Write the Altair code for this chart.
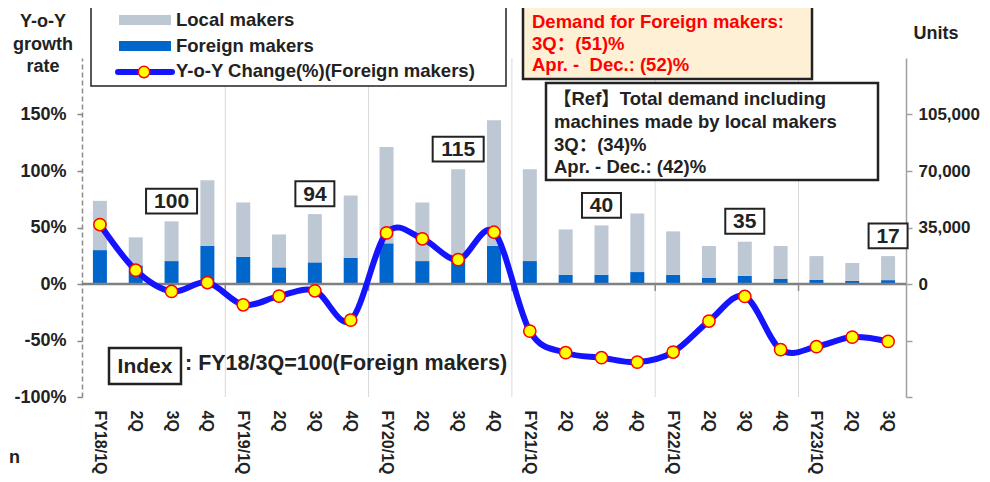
import altair as alt
import pandas as pd

# ---------------- data ----------------
cats = ["FY18/1Q", "2Q ", "3Q ", "4Q ",
        "FY19/1Q", "2Q  ", "3Q  ", "4Q  ",
        "FY20/1Q", "2Q   ", "3Q   ", "4Q   ",
        "FY21/1Q", "2Q    ", "3Q    ", "4Q    ",
        "FY22/1Q", "2Q     ", "3Q     ", "4Q     ",
        "FY23/1Q", "2Q      ", "3Q      "]
local_units = [30500, 17400, 24600, 40600,
               33600, 20400, 29900, 38700,
               59700, 36300, 54800, 77700,
               56900, 28200, 30600, 36300,
               26900, 19800, 21100, 20400,
               14800, 11100, 14900]
foreign_units = [21000, 11500, 14200, 23700,
                 16900, 10300, 13400, 16100,
                 25200, 14200, 16300, 23700,
                 14200, 5600, 5700, 7400,
                 5700, 3700, 5100, 3100,
                 2500, 1900, 2400]
yoy_pct = [52.6, 12.2, -6.6, 1.3,
           -18.4, -10.7, -6.0, -32.0,
           45.2, 40.0, 21.6, 45.8,
           -41.7, -60.8, -65.2, -69.1,
           -60.2, -32.8, -11.0, -58.1,
           -55.5, -47.0, -50.8]

index_cats = ["3Q ", "3Q  ", "3Q   ", "3Q    ", "3Q     ", "3Q      "]
index_labels = ["100", "94", "115", "40", "35", "17"]
index_label_y = [73.3, 79.9, 119.3, 69.6, 55.5, 42.6]   # label centre, in % axis units

year_starts = ["FY19/1Q", "FY20/1Q", "FY21/1Q", "FY22/1Q", "FY23/1Q"]

# ---------------- frames ----------------
rows = []
for c, lo, fo in zip(cats, local_units, foreign_units):
    rows.append({"cat": c, "series": "Foreign makers", "value": fo, "ord": 0})
    rows.append({"cat": c, "series": "Local makers", "value": lo, "ord": 1})
df_bars = pd.DataFrame(rows)
df_line = pd.DataFrame({"cat": cats, "yoy": yoy_pct})
df_idx = pd.DataFrame({"cat": index_cats, "label": index_labels, "ly": index_label_y})
df_idx["lo"] = df_idx["ly"] - 11.0
df_idx["hi"] = df_idx["ly"] + 11.0
df_years = pd.DataFrame({"cat": year_starts})
one = pd.DataFrame({"k": [0]})

FONT = "Liberation Sans, Arial, Noto Sans CJK SC, sans-serif"
DARK = "#222222"
W, H = 824, 339
STEP = W / len(cats)

X = alt.X("cat:N", sort=cats,
          scale=alt.Scale(domain=cats, paddingInner=0, paddingOuter=0),
          axis=alt.Axis(title=None, orient="bottom", labelAngle=90, labelAlign="left",
                        labelBaseline="middle", labelPadding=13, domain=False, ticks=False,
                        grid=False, labelFontSize=16, labelFontWeight="bold",
                        labelColor=DARK, labelFont=FONT))

right_scale = alt.Scale(domain=[-70000, 140000], nice=False, zero=False)
left_scale = alt.Scale(domain=[-100, 200], nice=False, zero=False)

right_axis = alt.Axis(title=None, orient="right",
                      values=[-70000, -35000, 0, 35000, 70000, 105000],
                      labelExpr="datum.value >= 0 ? format(datum.value, ',') : ''",
                      domainColor="#A0A0A0", domainWidth=1.5, tickColor="#A0A0A0",
                      tickSize=6, tickWidth=1.5, labelPadding=6, grid=False,
                      labelFontSize=17, labelFontWeight="bold", labelColor=DARK, labelFont=FONT)
left_axis = alt.Axis(title=None, orient="left",
                     values=[-100, -50, 0, 50, 100, 150],
                     labelExpr="datum.value + '%'",
                     domainColor="#8A8A8A", domainWidth=1.5, domainDash=[5, 3],
                     tickColor="#8A8A8A", tickSize=5, tickWidth=1.5, labelPadding=11,
                     grid=False, labelFontSize=18, labelFontWeight="bold",
                     labelColor=DARK, labelFont=FONT)

# ---------------- bars (right axis, units) ----------------
grid = alt.Chart(df_years).mark_rule(color="#D9D9D9", strokeWidth=1, xOffset=-STEP / 2).encode(
    x=X, y=alt.value(0), y2=alt.value(H))
small_ticks = alt.Chart(df_years).mark_rule(color="#8A8A8A", strokeWidth=1.5, xOffset=-STEP / 2).encode(
    x=X, y=alt.value(226), y2=alt.value(233))
bars = alt.Chart(df_bars).mark_bar(size=14).encode(
    x=X,
    y=alt.Y("value:Q", stack="zero", scale=right_scale, axis=right_axis),
    color=alt.Color("series:N",
                    scale=alt.Scale(domain=["Local makers", "Foreign makers"],
                                    range=["#BDC8D4", "#0066CC"]),
                    legend=None),
    order=alt.Order("ord:Q"))
zero_rule = alt.Chart(one).mark_rule(color="#808080", strokeWidth=2.5).encode(
    y=alt.Y(datum=0, scale=right_scale, axis=None))

# ---------------- line (left axis, %) ----------------
line = alt.Chart(df_line).mark_line(interpolate="cardinal", color="#1414FF", strokeWidth=6).encode(
    x=X, y=alt.Y("yoy:Q", scale=left_scale, axis=left_axis))
pts = alt.Chart(df_line).mark_point(shape="circle", filled=True, fill="#FFFF00", stroke="#FF0000",
                                    strokeWidth=1.5, size=150, opacity=1).encode(
    x=X, y=alt.Y("yoy:Q", scale=left_scale, axis=None))

box3 = alt.Chart(df_idx).transform_filter("length(datum.label) == 3").mark_bar(
    size=51, fill="white", stroke=DARK, strokeWidth=2).encode(
    x=X, y=alt.Y("lo:Q", scale=left_scale, axis=None), y2="hi:Q")
box2 = alt.Chart(df_idx).transform_filter("length(datum.label) == 2").mark_bar(
    size=39, fill="white", stroke=DARK, strokeWidth=2).encode(
    x=X, y=alt.Y("lo:Q", scale=left_scale, axis=None), y2="hi:Q")
box_txt = alt.Chart(df_idx).mark_text(fontSize=21, fontWeight="bold", color=DARK, font=FONT,
                                      baseline="middle", dy=1).encode(
    x=X, y=alt.Y("ly:Q", scale=left_scale, axis=None), text="label:N")


def rect(x1, y1, x2, y2, fill="white", stroke=DARK, sw=2):
    return alt.Chart(one).mark_rect(fill=fill, stroke=stroke, strokeWidth=sw).encode(
        x=alt.value(x1), x2=alt.value(x2), y=alt.value(y1), y2=alt.value(y2))


def txt(s, x, y, size=18.5, color=DARK, align="left"):
    return alt.Chart(one).mark_text(text=s, fontSize=size, fontWeight="bold", color=color,
                                    font=FONT, align=align, baseline="middle").encode(
        x=alt.value(x), y=alt.value(y))


NB = "\u00a0"
deco = [
    # legend
    rect(9, -52, 424, 28, sw=1.5),
    rect(37, -43, 89, -33, fill="#BDC8D4", stroke="#BDC8D4", sw=0),
    rect(37, -17, 89, -7, fill="#0066CC", stroke="#0066CC", sw=0),
    alt.Chart(one).mark_rule(color="#1414FF", strokeWidth=6, strokeCap="round").encode(
        x=alt.value(36), x2=alt.value(90), y=alt.value(14)),
    alt.Chart(one).mark_point(shape="circle", filled=True, fill="#FFFF00", stroke="#FF0000",
                              strokeWidth=1.5, size=130, opacity=1).encode(
        x=alt.value(62), y=alt.value(14)),
    txt("Local makers", 94, -38),
    txt("Foreign makers", 94, -12),
    txt("Y-o-Y Change(%)(Foreign makers)", 94, 13),
    # red box
    rect(441, -53, 730, 21, fill="#FDF0D5", stroke=DARK, sw=2.5),
    txt("Demand for Foreign makers:", 450, -36.5, color="#FF0000"),
    txt("3Q：(51)%", 450, -14, color="#FF0000"),
    txt("Apr. -" + NB + NB + "Dec.: (52)%", 450, 7, color="#FF0000"),
    # ref box
    rect(464, 25, 796, 122, sw=2.5),
    txt("【Ref】Total demand including", 471, 41),
    txt("machines made by local makers", 472, 64),
    txt("3Q：(34)%", 472, 87),
    txt("Apr. - Dec.: (42)%", 472, 109),
    # index note
    rect(27, 290, 99, 326, sw=2.5),
    txt("Index", 63, 309, size=21, align="center"),
    txt(": FY18/3Q=100(Foreign makers)", 103, 306, size=21.5),
    # axis titles
    txt("Y-o-Y", -39, -36, size=18, align="center"),
    txt("growth", -39, -13, size=18, align="center"),
    txt("rate", -39, 9, size=18, align="center"),
    txt("Units", 854, -24, size=18, align="center"),
    txt("n", -73, 400, size=18),
]

chart = alt.layer(grid, bars, zero_rule, small_ticks, line, pts, box3, box2, box_txt, *deco
                  ).resolve_scale(y="independent").properties(
    width=W, height=H,
    autosize=alt.AutoSizeParams(type="none"),
    padding={"left": 74, "top": 50, "right": 76, "bottom": 77},
    background="white",
).configure_view(stroke=None)

chart.save("out.html", embed_options={"renderer": "svg", "actions": False})
